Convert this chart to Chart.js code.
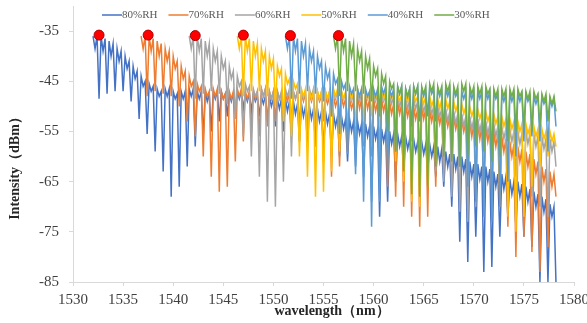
<!DOCTYPE html>
<html>
<head>
<meta charset="utf-8">
<script src="https://cdn.jsdelivr.net/npm/chart.js@4.4.1/dist/chart.umd.min.js"></script>
<style>
html, body { margin: 0; padding: 0; background: #fff; }
canvas { display: block; }
</style>
</head>
<body>
<canvas id="chart-rh" width="587" height="323"></canvas>
<script>
// spectra, 0.2 nm apart.
// every fringe: peak, small dip, peak, deep dip
var seriesLabels = ['80%RH', '70%RH', '60%RH', '50%RH', '40%RH', '30%RH'];
var seriesColors = ['#4472C4', '#ED7D31', '#A5A5A5', '#FFC000', '#5B9BD5', '#70AD47'];
var seriesStart = [1532.0, 1536.8, 1541.6, 1546.4, 1551.2, 1556.0];
var sampleStep = 0.2;

var rh80 = [
  -36,-38.5,-36,-48.5,  -36,-39,-36.5,-47.5,
  -37,-40,-37.5,-47,  -38.5,-41,-39,-47,
  -40,-42.5,-41,-49,  -42,-44.5,-43,-52.5,
  -44,-46,-45,-55.5,  -45.5,-47,-46,-59,
  -46.5,-48,-47,-63,  -46.5,-48,-46.5,-68,
  -47,-48.5,-47.5,-66,  -47,-48.5,-47,-62,
  -46.5,-48,-46.5,-58,  -47,-48.5,-47,-56,
  -47,-49,-47.5,-55,  -47,-48.5,-47,-53,
  -47,-48.5,-47.5,-52,  -47.5,-49,-47.5,-51,
  -47,-48.5,-47,-50.5,  -47.5,-49,-47.5,-51,
  -47.5,-49,-48,-52,  -48,-49.5,-48,-53,
  -48,-50,-48.5,-54,  -48.5,-50.5,-48.5,-55,
  -48.5,-51,-49,-56,  -49,-51.5,-49.5,-57,
  -49.5,-52,-50,-58,  -50,-52.5,-50.5,-58,
  -50.5,-53,-51,-59,  -51,-53.5,-51.5,-60,
  -51.5,-54,-52,-60,  -52,-54.5,-52.5,-61,
  -52.5,-55,-53,-62,  -53,-55.5,-53.5,-64,
  -53.5,-56,-54,-69,  -54,-56.5,-54.5,-72,
  -54.5,-57,-55,-69,  -55,-57.5,-55.5,-65,
  -55.5,-58,-56,-63,  -56,-58.5,-56.5,-62,
  -56.5,-59,-57,-62,  -57,-59.5,-57.5,-63,
  -57.5,-60,-58,-64,  -58,-61,-58.5,-66,
  -59,-62,-59.5,-70,  -59.5,-62.5,-60,-77,
  -60,-63,-60.5,-81,  -61,-64,-61.5,-76,
  -61.5,-64.5,-62,-83,  -62,-65,-62.5,-82,
  -63,-66,-63.5,-76,  -63.5,-66.5,-64,-72,
  -64.5,-67.5,-65,-74,  -65,-68,-65.5,-76,
  -66,-69,-66.5,-78,  -67,-70,-67.5,-85,
  -68,-71,-68.5,-85,  -69.5,-72,-70,-85
];
var rh70 = [
  -36,-38.5,-36,-48,  -36,-39,-36.5,-47,
  -37,-40,-37.5,-47.5,  -38.5,-41,-39,-48,
  -40,-42.5,-41,-50,  -42,-44.5,-43,-53,
  -44,-46,-45,-56,  -45.5,-47,-46,-60,
  -46.5,-48,-47,-64,  -46.5,-48,-46.5,-67,
  -47,-48.5,-47.5,-66,  -47,-48.5,-47,-61,
  -46.5,-48,-46.5,-57,  -47,-48.5,-47,-55,
  -47,-48.5,-47,-56,  -46.5,-48,-46.5,-54,
  -47,-48.5,-47,-53,  -47,-48.5,-47.5,-52,
  -47.5,-49,-47.5,-53,  -47,-48.5,-47,-54,
  -47.5,-49,-47.5,-56,  -47.5,-49,-47.5,-58,
  -47.5,-49,-48,-61,  -48,-49.5,-48,-64,
  -48,-50,-48.5,-62,  -48,-50,-48.5,-59,
  -48.5,-50.5,-49,-57,  -48,-50.5,-48.5,-58,
  -48,-50.5,-48.5,-60,  -48.5,-51,-49,-63,
  -48.5,-51,-49,-66,  -49,-51.5,-49.5,-68,
  -49,-51.5,-49.5,-70,  -49.5,-52,-50,-72,
  -50,-52.5,-50.5,-74,  -50,-52.5,-50.5,-72,
  -50.5,-53,-51,-66,  -51,-53.5,-51.5,-62,
  -51.5,-54,-52,-61,  -52,-54.5,-52.5,-62,
  -52.5,-55,-53,-63,  -53,-56,-53.5,-64,
  -53.5,-56.5,-54,-66,  -54,-57,-54.5,-68,
  -55,-58,-55.5,-70,  -56,-59,-56.5,-74,
  -57,-60,-57.5,-80,  -58,-61,-58.5,-76,
  -59,-62,-59.5,-79,  -60.5,-63.5,-61,-83,
  -62,-65,-62.5,-78,  -63,-66,-63.5,-68
];
var rh60 = [
  -36,-38.5,-36,-48.5,  -36,-39,-36.5,-47.5,
  -37,-40,-37.5,-47,  -38.5,-41,-39,-47.5,
  -40,-42.5,-41,-49.5,  -42,-44.5,-43,-52.5,
  -44,-46,-45,-56,  -45.5,-47,-46,-60,
  -46.5,-48,-47,-64,  -46.5,-48,-46.5,-69,
  -47,-48.5,-47,-70,  -47,-48.5,-47,-65,
  -46.5,-48,-46.5,-60,  -47,-48.5,-47,-57,
  -47,-48.5,-47,-55,  -46.5,-48,-46.5,-54,
  -47,-48.5,-47,-53,  -47,-48.5,-47,-52,
  -47,-48.5,-47,-53,  -47,-48.5,-47.5,-54,
  -47.5,-49,-47.5,-56,  -47.5,-49,-47.5,-57,
  -47,-48.5,-47.5,-58,  -47.5,-49,-47.5,-59,
  -47.5,-49,-48,-58,  -48,-49.5,-48,-57,
  -48,-50,-48.5,-56,  -48.5,-50.5,-48.5,-57,
  -48.5,-50.5,-49,-59,  -49,-51,-49.5,-61,
  -49.5,-51.5,-50,-63,  -50,-52,-50.5,-65,
  -50.5,-53,-51,-68,  -51,-53.5,-51.5,-71,
  -51.5,-54,-52,-73,  -52,-54.5,-52.5,-70,
  -52.5,-55,-53,-66,  -53,-55.5,-53.5,-63,
  -53.5,-56,-54,-62,  -54,-56.5,-54.5,-63,
  -54.5,-57,-55,-64,  -55,-57.5,-55.5,-66,
  -55,-57.5,-55.5,-68,  -55.5,-58,-56,-70,
  -56,-58.5,-56.5,-72,  -56.5,-59,-57,-62
];
var rh50 = [
  -36,-38.5,-36,-48,  -36,-39,-36.5,-47,
  -37,-40,-37.5,-47,  -38.5,-41,-39,-48,
  -40,-42.5,-40.5,-50,  -42,-44,-42.5,-53,
  -43.5,-45.5,-44.5,-56,  -45,-46.5,-45.5,-60,
  -46.5,-48,-46.5,-64,  -47,-48.5,-47,-68,
  -47,-48.5,-47,-67,  -47,-48.5,-47,-63,
  -46.5,-48,-46.5,-59,  -47,-48.5,-47,-56,
  -47,-48.5,-47,-54,  -46.5,-48,-46.5,-53,
  -47,-48.5,-47,-52,  -47,-48.5,-47,-54,
  -47,-48.5,-47,-57,  -47,-48.5,-47.5,-61,
  -47.5,-49,-47.5,-65,  -47.5,-49,-47.5,-69,
  -47.5,-49,-48,-70,  -48,-49.5,-48,-66,
  -48,-50,-48.5,-61,  -48.5,-50.5,-48.5,-58,
  -48.5,-50.5,-49,-56,  -49,-51,-49.5,-55,
  -49.5,-51.5,-50,-56,  -50,-52,-50.5,-58,
  -50.5,-52.5,-51,-61,  -51,-53,-51.5,-64,
  -51.5,-53.5,-52,-68,  -52,-54,-52.5,-72,
  -52.5,-54.5,-53,-75,  -53,-55,-53.5,-72,
  -53.5,-55.5,-54,-66,  -54,-56,-54.5,-62,
  -54.5,-56.5,-55,-60,  -55,-57,-55.5,-58
];
var rh40 = [
  -36,-38.5,-36,-48.5,  -36,-39,-36.5,-47.5,
  -37,-40,-37.5,-47,  -38.5,-41,-39,-47.5,
  -40,-42.5,-41,-49,  -42,-44.5,-43,-52,
  -43.5,-45.5,-44.5,-55.5,  -45,-46.5,-45.5,-59.5,
  -46,-47.5,-46.5,-63.5,  -46.5,-48,-46.5,-69,
  -46.5,-48,-47,-74,  -46.5,-48,-46.5,-69,
  -46,-47.5,-46,-63,  -46.5,-48,-46.5,-59,
  -46,-47.5,-46,-56,  -46.5,-48,-46.5,-54,
  -46,-47.5,-46,-53,  -46.5,-48,-46.5,-52,
  -46,-47.5,-46.5,-53,  -46.5,-48,-46.5,-55,
  -46.5,-48,-46.5,-58,  -46.5,-48,-47,-62,
  -47,-48.5,-47,-66,  -47,-48.5,-47,-69,
  -47,-48.5,-47,-72,  -47,-48.5,-47,-73,
  -47,-48.5,-47.5,-70,  -47.5,-49,-47.5,-65,
  -47.5,-49,-47.5,-60,  -47.5,-49,-47.5,-57,
  -47.5,-49,-48,-56,  -48,-49.5,-48,-57,
  -48,-49.5,-48.5,-59,  -48.5,-50,-48.5,-54
];
var rh30 = [
  -36,-38.5,-36,-48,  -36,-39,-36.5,-47,
  -37,-40,-37.5,-47,  -38.5,-41,-39,-47.5,
  -40,-42.5,-40.5,-49,  -42,-44,-42.5,-52,
  -43.5,-45.5,-44,-55,  -45,-46.5,-45.5,-59,
  -46,-47.5,-46,-63,  -46.5,-48,-46.5,-67.5,
  -46,-47.5,-46,-68,  -46,-47.5,-46,-66,
  -45.5,-47,-45.5,-62,  -46,-47.5,-46,-60,
  -45.5,-47,-45.5,-61,  -46,-47.5,-46,-62,
  -45.5,-47,-45.5,-60,  -46,-47.5,-46,-58,
  -46,-47.5,-46,-59,  -46,-47.5,-46.5,-61,
  -46.5,-48,-46.5,-60,  -46.5,-48,-46.5,-57,
  -46.5,-48,-46.5,-55,  -46.5,-48,-47,-54,
  -47,-48.5,-47,-55,  -47,-48.5,-47.5,-54,
  -47.5,-49,-47.5,-53,  -48,-49.5,-48,-51
];
var seriesValues = [rh80, rh70, rh60, rh50, rh40, rh30];

// red markers on the first peak of every spectrum
var markerWavelength = [1532.6, 1537.5, 1542.2, 1547.0, 1551.7, 1556.5];
var markerIntensity = [-35.8, -35.8, -35.9, -35.8, -35.9, -35.9];

var xTicks = [1530, 1535, 1540, 1545, 1550, 1555, 1560, 1565, 1570, 1575, 1580];
var yTicks = [-85, -75, -65, -55, -45, -35];
var xTitle = 'wavelength（nm）';
var yTitle = 'Intensity（dBm）';

var datasets = [];
for (var s = 0; s < seriesValues.length; s++) {
  var pts = seriesValues[s].map(function (v, i) {
    return { x: Math.round((seriesStart[s] + i * sampleStep) * 100) / 100, y: v };
  });
  datasets.push({
    label: seriesLabels[s],
    data: pts,
    borderColor: seriesColors[s],
    backgroundColor: seriesColors[s],
    borderWidth: 1.5,
    pointRadius: 0,
    tension: 0,
    fill: false,
    order: seriesValues.length - s
  });
}
datasets.push({
  label: 'peak',
  data: markerWavelength.map(function (x, i) { return { x: x, y: markerIntensity[i] }; }),
  showLine: false,
  pointRadius: 5,
  pointBackgroundColor: '#FF0000',
  pointBorderColor: '#B00000',
  pointBorderWidth: 1,
  order: 0
});

var textPlugin = {
  id: 'textPlugin',
  afterDraw: function (chart) {
    var c = chart.ctx;
    c.save();
    // legend
    var lx = 102;
    c.font = '11px "Liberation Serif"';
    c.textBaseline = 'middle';
    c.textAlign = 'left';
    for (var i = 0; i < seriesLabels.length; i++) {
      c.strokeStyle = seriesColors[i];
      c.lineWidth = 1.5;
      c.beginPath();
      c.moveTo(lx, 15);
      c.lineTo(lx + 20, 15);
      c.stroke();
      c.fillStyle = '#595959';
      c.fillText(seriesLabels[i], lx + 20, 15);
      lx += 20 + c.measureText(seriesLabels[i]).width + 11;
    }
    // axis titles
    c.font = 'bold 14px "Liberation Serif"';
    c.fillStyle = '#262626';
    c.textAlign = 'center';
    c.fillText(xTitle, 332, 311);
    c.translate(15, 165);
    c.rotate(-Math.PI / 2);
    c.fillText(yTitle, 0, 0);
    c.restore();
  }
};

var ctx = document.getElementById('chart-rh').getContext('2d');
var grafik = new Chart(ctx, {
  type: 'line',
  data: { datasets: datasets },
  plugins: [textPlugin],
  options: {
    responsive: false,
    animation: false,
    devicePixelRatio: 1,
    layout: { padding: { left: 0, top: 3, right: 13, bottom: 0 } },
    plugins: {
      legend: { display: false },
      tooltip: { enabled: false }
    },
    scales: {
      x: {
        type: 'linear',
        min: 1530,
        max: 1580,
        afterBuildTicks: function (scale) {
          scale.ticks = xTicks.map(function (v) { return { value: v }; });
        },
        afterFit: function (scale) {
          scale.height = 41;
          scale.paddingLeft = 0;
          scale.paddingRight = 0;
        },
        grid: { display: true, drawOnChartArea: false, drawTicks: true, tickLength: 4, color: '#D9D9D9' },
        border: { display: true, color: '#D9D9D9' },
        ticks: {
          color: '#404040',
          padding: 5,
          maxRotation: 0,
          font: { size: 15, family: 'Liberation Serif' },
          callback: function (v) { return String(v); }
        }
      },
      y: {
        type: 'linear',
        min: -85,
        max: -30,
        afterBuildTicks: function (scale) {
          scale.ticks = yTicks.map(function (v) { return { value: v }; });
        },
        afterFit: function (scale) {
          scale.width = 73;
          scale.paddingTop = 0;
          scale.paddingBottom = 0;
        },
        grid: { display: true, drawOnChartArea: false, drawTicks: true, tickLength: 4, color: '#D9D9D9' },
        border: { display: true, color: '#D9D9D9' },
        ticks: {
          color: '#404040',
          padding: 10,
          font: { size: 15, family: 'Liberation Serif' },
          callback: function (v) { return String(v); }
        }
      }
    }
  }
});
</script>
</body>
</html>
